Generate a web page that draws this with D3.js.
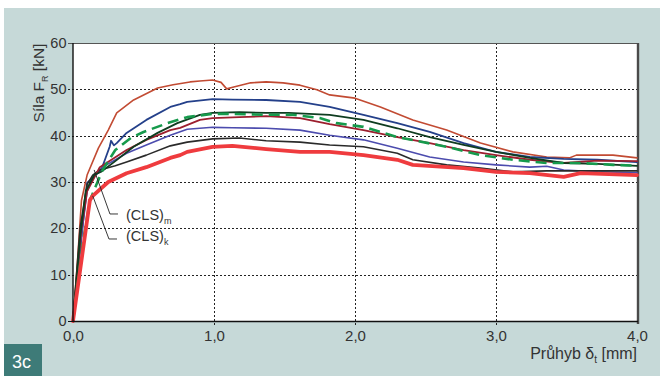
<!DOCTYPE html>
<html>
<head>
<meta charset="utf-8">
<script src="https://cdn.jsdelivr.net/npm/d3@7"></script>
<style>
  html, body { margin: 0; padding: 0; background: #fff; }
  svg { display: block; font-family: "Liberation Sans", Arial, Helvetica, sans-serif; }
</style>
</head>
<body>
<svg id="chart" width="660" height="376"></svg>
<script>
// Axis ticks
const xTicks = [0, 1, 2, 3, 4];
const xTickLabels = ["0,0", "1,0", "2,0", "3,0", "4,0"];
const yTicks = [0, 10, 20, 30, 40, 50, 60];
const yTickLabels = ["0", "10", "20", "30", "40", "50", "60"];

// Load–deflection curves: [deflection mm, force kN]
const seriesBrown = [[0,0],[0.03,12],[0.06,26],[0.1,31.5],[0.18,37.3],[0.25,41.2],[0.31,44.9],[0.43,47.7],[0.6,50.3],[0.71,51],[0.83,51.6],[0.9,51.8],[0.99,52],[1.05,51.5],[1.09,50.1],[1.14,50.5],[1.26,51.4],[1.37,51.6],[1.49,51.4],[1.61,50.9],[1.73,49.9],[1.82,48.8],[2.0,48.1],[2.18,46.2],[2.41,43.4],[2.65,41.2],[2.89,38.4],[3.12,36.5],[3.36,35.4],[3.52,35.2],[3.57,35.8],[3.83,35.8],[4.0,35.2]];
const seriesNavy = [[0,0],[0.06,18],[0.1,29.8],[0.2,32.6],[0.26,37.6],[0.27,38.9],[0.29,37.9],[0.31,38.4],[0.38,40.6],[0.52,43.4],[0.69,46.2],[0.76,46.8],[0.81,47.3],[0.99,47.9],[1.13,47.8],[1.37,47.7],[1.61,47.3],[1.82,46.2],[2.06,44.5],[2.3,42.7],[2.53,40.8],[2.77,38.4],[3.0,36.5],[3.24,35.4],[3.48,35.0],[3.72,34.8],[4.0,34.3]];
const seriesDarkGreen = [[0,0],[0.05,18],[0.09,28],[0.15,31.5],[0.2,32.2],[0.3,34.5],[0.43,37.6],[0.6,40.6],[0.74,42.7],[0.9,44.5],[0.99,44.9],[1.18,45.1],[1.37,44.9],[1.53,44.9],[1.82,44.5],[2.06,43.4],[2.3,41.6],[2.53,39.7],[2.77,38.0],[3.0,36.5],[3.24,35.2],[3.48,34.1],[3.72,33.9],[4.0,33.5]];
const seriesGreen = [[0,0],[0.07,17],[0.12,26],[0.16,29],[0.21,32.6],[0.3,36.9],[0.41,39.5],[0.5,40.8],[0.67,42.7],[0.81,44.0],[0.99,44.7],[1.13,44.7],[1.37,44.5],[1.56,44.5],[1.75,43.8],[1.87,42.7],[2.06,41.9],[2.3,39.7],[2.65,37.6],[2.89,35.8],[3.12,34.8],[3.36,34.1],[3.6,34.1],[3.83,33.7],[4.0,33.5]];
const seriesDarkRed = [[0,0],[0.03,10],[0.06,20],[0.1,28],[0.19,33.2],[0.38,36.9],[0.52,39.1],[0.69,41.2],[0.76,41.7],[0.9,43.4],[0.99,43.8],[1.18,44.0],[1.37,44.2],[1.61,43.8],[1.82,42.5],[2.06,41.2],[2.3,39.7],[2.53,38.4],[2.77,36.9],[3.0,35.8],[3.24,34.8],[3.48,34.1],[3.72,34.6],[4.0,34.5]];
const seriesViolet = [[0,0],[0.05,16],[0.1,28],[0.15,31.5],[0.21,33.2],[0.38,36.2],[0.52,38.0],[0.69,40.1],[0.81,41.4],[0.99,41.8],[1.13,41.7],[1.37,41.6],[1.61,41.2],[1.82,40.1],[2.06,39.1],[2.3,37.3],[2.53,35.4],[2.77,34.3],[3.0,33.7],[3.24,33.2],[3.36,33.4],[3.48,32.6],[3.72,32.2],[4.0,32.0]];
const seriesBlack = [[0,0],[0.02,8],[0.05,20],[0.1,29.5],[0.14,31.5],[0.19,32.6],[0.3,33.5],[0.38,34.3],[0.52,35.8],[0.69,37.8],[0.81,38.6],[0.99,39.3],[1.18,39.5],[1.37,38.9],[1.61,38.6],[1.82,38.0],[2.06,37.6],[2.3,36.2],[2.41,34.8],[2.65,33.7],[2.89,33.0],[3.12,32.2],[3.36,32.4],[3.6,32.4],[4.0,32.4]];
const seriesRed = [[0,0],[0.12,26.1],[0.14,27],[0.25,30],[0.38,31.9],[0.52,33.2],[0.69,35.2],[0.76,35.8],[0.81,36.5],[0.99,37.6],[1.13,37.8],[1.37,37.1],[1.61,36.5],[1.82,36.5],[2.06,35.8],[2.3,34.8],[2.41,33.7],[2.77,33.0],[3.0,32.2],[3.24,31.9],[3.48,31.1],[3.6,31.9],[4.0,31.5]];

// Leader lines and labels for the mean and characteristic curves
const leaderM = [[0.15,32.6],[0.262,23.1],[0.319,23.1]];
const leaderK = [[0.14,27],[0.255,17.7],[0.312,17.7]];
const labelM = { x: 0.376, y: 21.8, main: "(CLS)", sub: "m" };
const labelK = { x: 0.376, y: 17.2, main: "(CLS)", sub: "k" };

const seriesList = [
  { data: seriesBrown,     color: "#c24b33", width: 1.6 },
  { data: seriesNavy,      color: "#24408a", width: 1.8 },
  { data: seriesViolet,    color: "#4c4cae", width: 1.6 },
  { data: seriesBlack,     color: "#2a2a2a", width: 1.6 },
  { data: seriesDarkRed,   color: "#9c1f2e", width: 1.8 },
  { data: seriesDarkGreen, color: "#0f3d20", width: 1.8 },
  { data: seriesGreen,     color: "#169a4c", width: 2.6, dash: "11,6" },
  { data: seriesRed,       color: "#ef3b3e", width: 3.8 }
];

const svg = d3.select("#chart");
const W = 660, H = 376;
const margin = { left: 73, top: 43, right: 23, bottom: 55 };
const x = d3.scaleLinear().domain([0, 4]).range([margin.left, W - margin.right]);
const y = d3.scaleLinear().domain([0, 60]).range([H - margin.bottom, margin.top]);

// Panel background
svg.append("rect").attr("x", 0).attr("y", 0).attr("width", W).attr("height", H).attr("fill", "#ffffff");
svg.append("rect").attr("x", 4).attr("y", 8).attr("width", W - 4).attr("height", H - 8).attr("fill", "#c6d9d8");

// Plot area
svg.append("rect")
  .attr("x", x(0)).attr("y", y(60))
  .attr("width", x(4) - x(0)).attr("height", y(0) - y(60))
  .attr("fill", "#ffffff");

// Dotted grid
const grid = svg.append("g").attr("stroke", "#222").attr("stroke-width", 1).attr("stroke-dasharray", "2,2");
grid.selectAll("line.h").data(yTicks.filter(d => d > 0 && d < 60)).join("line")
  .attr("x1", x(0) - 5).attr("x2", x(4))
  .attr("y1", d => Math.round(y(d)) + 0.5).attr("y2", d => Math.round(y(d)) + 0.5);
grid.selectAll("line.v").data(xTicks.filter(d => d > 0 && d < 4)).join("line")
  .attr("y1", y(60)).attr("y2", y(0) + 4)
  .attr("x1", d => Math.round(x(d)) + 0.5).attr("x2", d => Math.round(x(d)) + 0.5);

// Frame: top and right edges in grey, axes in black
svg.append("line").attr("x1", x(0) - 5).attr("x2", x(4) + 1).attr("y1", y(60) + 0.5).attr("y2", y(60) + 0.5)
  .attr("stroke", "#555").attr("stroke-width", 1.2);
svg.append("line").attr("x1", x(4) + 1).attr("x2", x(4) + 1).attr("y1", y(60)).attr("y2", y(0) + 3)
  .attr("stroke", "#4a4a4a").attr("stroke-width", 2.4);

// Curves
const line = d3.line().x(d => x(d[0])).y(d => y(d[1])).curve(d3.curveLinear);
const curves = svg.append("g").attr("fill", "none").attr("stroke-linejoin", "round").attr("stroke-linecap", "round");
seriesList.forEach(s => {
  curves.append("path")
    .attr("d", line(s.data))
    .attr("stroke", s.color)
    .attr("stroke-width", s.width)
    .attr("stroke-linecap", s.dash ? "butt" : "round")
    .attr("stroke-dasharray", s.dash || null);
});

// Axes (black)
svg.append("line").attr("x1", x(0)).attr("x2", x(0)).attr("y1", y(60)).attr("y2", y(0) + 1)
  .attr("stroke", "#111").attr("stroke-width", 1.4);
svg.append("line").attr("x1", x(0)).attr("x2", x(4) + 1).attr("y1", y(0) + 0.5).attr("y2", y(0) + 0.5)
  .attr("stroke", "#111").attr("stroke-width", 1.4);
svg.append("line").attr("x1", x(0) - 5).attr("x2", x(0)).attr("y1", y(0) + 0.5).attr("y2", y(0) + 0.5)
  .attr("stroke", "#111").attr("stroke-width", 1);

// Tick labels
const yAxis = d3.axisLeft(y).tickValues(yTicks).tickFormat((d, i) => yTickLabels[i]).tickSize(0).tickPadding(6);
const gy = svg.append("g").attr("transform", `translate(${x(0) - 0.5},0)`).call(yAxis);
gy.select(".domain").remove();
gy.selectAll("text").attr("font-size", 14.5).attr("fill", "#333").attr("font-family", "Liberation Sans, Arial, sans-serif");

const xAxis = d3.axisBottom(x).tickValues(xTicks).tickFormat((d, i) => xTickLabels[i]).tickSize(0).tickPadding(9);
const gx = svg.append("g").attr("transform", `translate(0,${y(0)})`).call(xAxis);
gx.select(".domain").remove();
gx.selectAll("text").attr("font-size", 15).attr("fill", "#333").attr("font-family", "Liberation Sans, Arial, sans-serif");

// Axis titles
const yTitle = svg.append("text")
  .attr("transform", "translate(44,83) rotate(-90)")
  .attr("text-anchor", "middle").attr("font-size", 15.5).attr("fill", "#333");
yTitle.append("tspan").text("Síla F");
yTitle.append("tspan").attr("font-size", 9).attr("dy", 4).text("R");
yTitle.append("tspan").attr("dy", -4).text(" [kN]");

const xTitle = svg.append("text")
  .attr("x", x(4)).attr("y", 359)
  .attr("text-anchor", "end").attr("font-size", 16).attr("fill", "#333");
xTitle.append("tspan").text("Průhyb δ");
xTitle.append("tspan").attr("font-size", 10).attr("dy", 4).text("t");
xTitle.append("tspan").attr("dy", -4).text(" [mm]");

// Leader lines
const leader = d3.line().x(d => x(d[0])).y(d => y(d[1]));
[leaderM, leaderK].forEach(pts => {
  svg.append("path").attr("d", leader(pts)).attr("fill", "none")
    .attr("stroke", "#222").attr("stroke-width", 0.9);
});
[labelM, labelK].forEach(l => {
  const t = svg.append("text").attr("x", x(l.x)).attr("y", y(l.y))
    .attr("font-size", 14.5).attr("fill", "#333");
  t.append("tspan").text(l.main);
  t.append("tspan").attr("font-size", 9).attr("dy", 4).text(l.sub);
});

// Figure tag
svg.append("rect").attr("x", 4).attr("y", 344).attr("width", 38).attr("height", 32).attr("fill", "#3e7b78");
svg.append("text").attr("x", 12).attr("y", 368).attr("font-size", 18).attr("fill", "#ffffff").text("3c");
</script>
</body>
</html>
